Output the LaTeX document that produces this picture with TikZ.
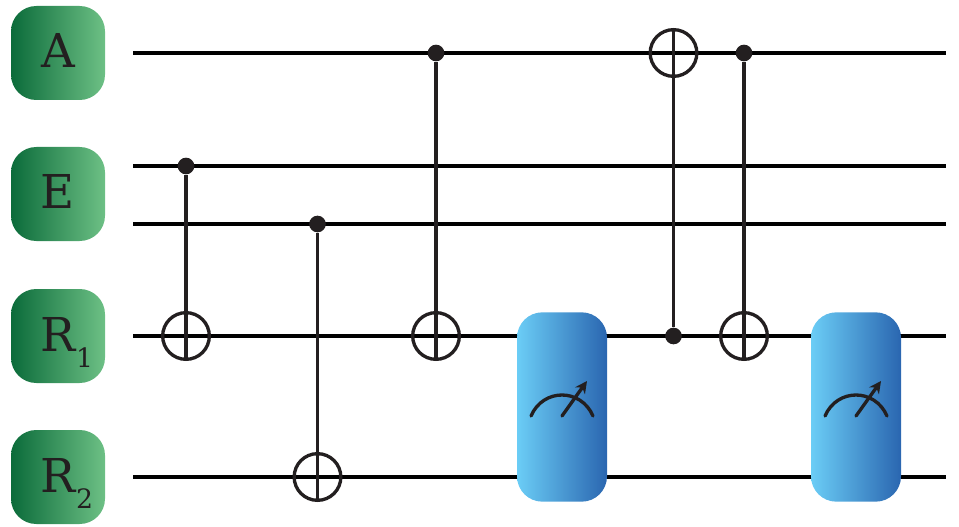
\documentclass[tikz,border=0pt]{standalone}
\usepackage{fontspec}
\usepackage{tikz}
\usepackage{xcolor}
\usetikzlibrary{arrows.meta}
\setmainfont{DejaVu Serif}
\definecolor{inkdark}{HTML}{231F20}
\definecolor{greenleft}{HTML}{0B6B3A}
\definecolor{greenright}{HTML}{6DC085}
\definecolor{blueleft}{HTML}{6BCDF6}
\definecolor{blueright}{HTML}{2A66B0}
\newcommand{\qsub}[1]{\rlap{\kern0.5pt\raisebox{-12.5pt}{\fontsize{20}{20}\selectfont #1}}}
\tikzset{
	qubit/.style={rounded corners=19pt,minimum size=70.5pt,inner sep=0pt,left color=greenleft,right color=greenright,text=inkdark,font=\fontsize{35}{35}\selectfont,text height=26pt,text depth=3.5pt},
	meterbox/.style={rounded corners=19pt,minimum width=67.5pt,minimum height=142pt,inner sep=0pt,left color=blueleft,right color=blueright},
	wire/.style={line width=2.8pt,black},
	link/.style={line width=2.5pt,inkdark},
	ctrl/.style={circle,fill=inkdark,minimum size=12.5pt,inner sep=0pt},
	target/.style={circle,draw=inkdark,line width=2.5pt,minimum size=35pt,inner sep=0pt},
}
\begin{document}
\begin{tikzpicture}[x=0.75pt,y=-0.75pt,>={Stealth[length=9pt,width=9pt]}]
	\useasboundingbox (0,0) rectangle (959,527);
	\node[qubit] (A) at (58,53) {A};
	\node[qubit] (E) at (58,194) {E};
	\node[qubit] (R1) at (58,336) {R\qsub{1}};
	\node[qubit] (R2) at (58,477) {R\qsub{2}};
	\coordinate (a-in) at (133,53);
	\coordinate (a-out) at (946,53);
	\coordinate (e1-in) at (133,166);
	\coordinate (e1-out) at (946,166);
	\coordinate (e2-in) at (133,224);
	\coordinate (e2-out) at (946,224);
	\coordinate (r1-in) at (133,336);
	\coordinate (r1-out) at (946,336);
	\coordinate (r2-in) at (133,477);
	\coordinate (r2-out) at (946,477);
	\draw[wire] (a-in) -- (a-out);
	\draw[wire] (e1-in) -- (e1-out);
	\draw[wire] (e2-in) -- (e2-out);
	\draw[wire] (r1-in) -- (r1-out);
	\draw[wire] (r2-in) -- (r2-out);
	\node[ctrl] (c1) at (186,166) {};
	\node[target] (t1) at (186,336) {};
	\node[ctrl] (c2) at (317.5,224) {};
	\node[target] (t2) at (317.5,477) {};
	\node[ctrl] (c3) at (436,53) {};
	\node[target] (t3) at (436,336) {};
	\node[target] (t4) at (673.5,53) {};
	\node[ctrl] (c4) at (673.5,336) {};
	\node[ctrl] (c5) at (744,53) {};
	\node[target] (t5) at (744,336) {};
	\draw[link] (c1) -- (t1.south);
	\draw[link] (c2) -- (t2.south);
	\draw[link] (c3) -- (t3.south);
	\draw[link] (c4) -- (t4.north);
	\draw[link] (c5) -- (t5.south);
	\node[meterbox] (m1) at (562,407) {};
	\node[meterbox] (m2) at (856,407) {};
	\foreach \m in {m1,m2}{
		\draw[link,line cap=round] ([shift={(-31,9)}]\m.center) .. controls ([shift={(-19,-19)}]\m.center) and ([shift={(19,-19)}]\m.center) .. ([shift={(31,9)}]\m.center);
		\draw[link,line cap=round,->] ([shift={(0,9)}]\m.center) -- ([shift={(25,-26)}]\m.center);
	}
\end{tikzpicture}
\end{document}
